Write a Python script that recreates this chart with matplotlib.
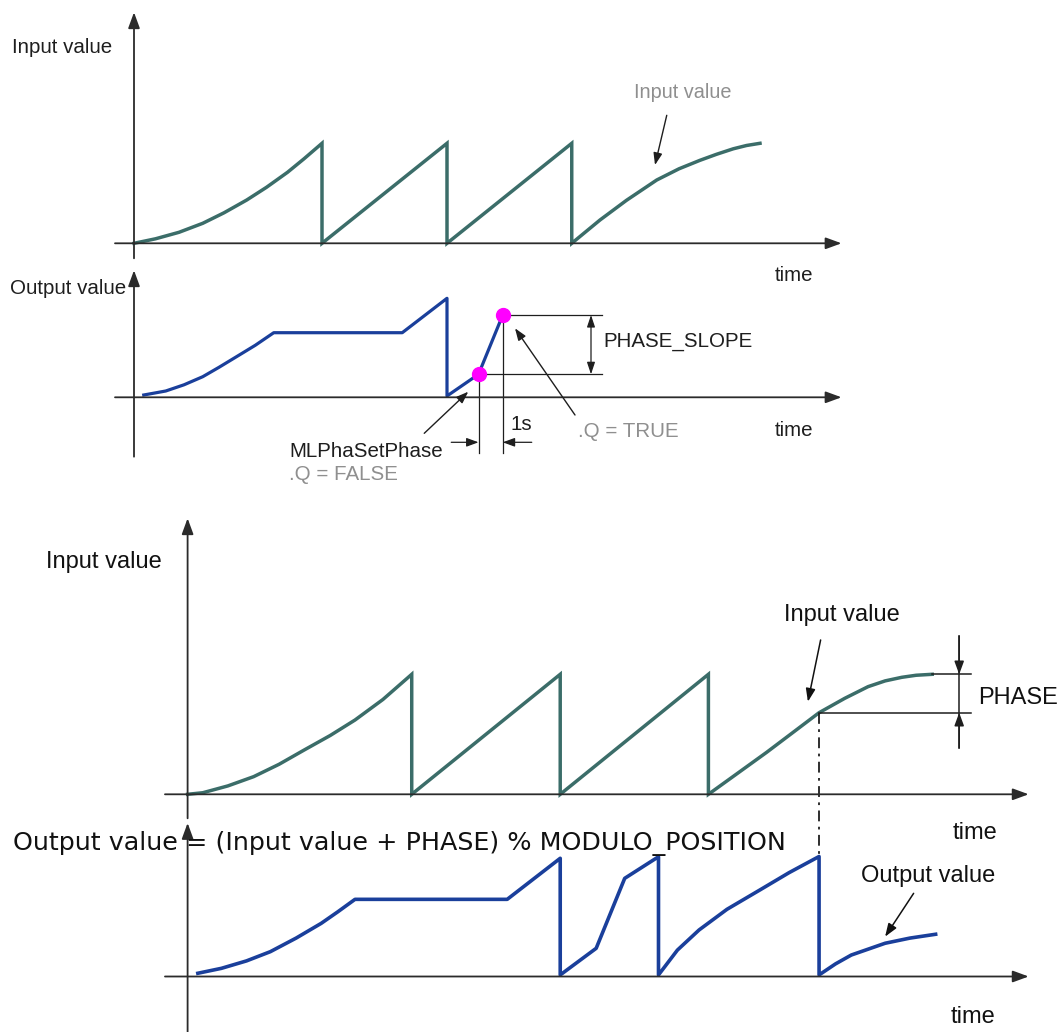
#!/usr/bin/env python3
"""Phase shift diagram: input value vs. output value over time (two cases)."""

import matplotlib

matplotlib.use("Agg")
import matplotlib.pyplot as plt

# ---- data (time in s, values normalised to the modulo height = 1.0) ----
# top case: MLPhaSetPhase with PHASE_SLOPE
top_in_t = [0.0, 0.86, 1.8, 2.75, 3.6, 4.51, 5.3, 6.14, 6.8, 7.52, 7.52,
            12.52, 12.52, 17.51, 17.51,
            18.64, 19.7, 20.91, 21.8, 22.64, 23.3, 23.97, 24.5, 25.04]
top_in_v = [0.0, 0.045, 0.11, 0.2, 0.305, 0.433, 0.56, 0.71, 0.845, 1.0, 0.0,
            1.0, 0.0, 1.0, 0.0,
            0.233, 0.43, 0.633, 0.745, 0.83, 0.89, 0.945, 0.978, 1.0]
top_out_t = [0.39, 1.27, 2.0, 2.75, 3.4, 4.10, 4.85, 5.59, 10.73, 12.52, 12.52,
             13.78, 14.75]
top_out_v = [0.023, 0.063, 0.125, 0.206, 0.3, 0.406, 0.52, 0.646, 0.646, 0.99, 0.013,
             0.23, 0.823]
q_false = (13.78, 0.23)
q_true = (14.75, 0.823)

# bottom case: output = (input + PHASE) % MODULO_POSITION
bot_in_t = [0.0, 0.49, 1.3, 2.13, 2.95, 3.76, 4.6, 5.40, 6.3, 7.23, 7.23,
            12.02, 12.02, 16.80, 16.80,
            17.59, 18.68, 19.5, 20.37, 21.2, 21.95, 22.5, 23.04, 23.5, 24.02]
bot_in_v = [0.0, 0.013, 0.07, 0.147, 0.25, 0.369, 0.49, 0.619, 0.79, 1.0, 0.0,
            1.0, 0.0, 1.0, 0.0,
            0.147, 0.35, 0.51, 0.68, 0.8, 0.897, 0.945, 0.975, 0.992, 1.0]
bot_out_t = [0.33, 1.09, 1.9, 2.67, 3.5, 4.31, 4.85, 5.40, 10.31, 12.02, 12.02,
             13.18, 14.10, 15.19, 15.19,
             15.8, 16.50, 17.4, 18.46, 19.4, 20.37, 20.37,
             20.9, 21.41, 22.50, 23.3, 24.13]
bot_out_v = [0.027, 0.068, 0.13, 0.207, 0.32, 0.443, 0.54, 0.643, 0.643, 0.985, 0.013,
             0.235, 0.818, 0.998, 0.013,
             0.22, 0.388, 0.56, 0.721, 0.865, 1.0, 0.013,
             0.105, 0.179, 0.277, 0.32, 0.352]
phase_t = 20.37
phase_from = 0.68
phase_to = 1.0

TEAL = "#3b6d69"
BLUE = "#1a3f9b"
AXIS = "#2b2b2b"
GREY = "#8f8f8f"
INK = "#1e1e1e"
W, H = 1060, 1032
FS_TOP = 14.8
FS_BOT = 17

plt.rcParams["font.family"] = ["Liberation Sans", "DejaVu Sans"]

fig = plt.figure(figsize=(W / 100, H / 100), dpi=100)


def panel(ox, oy, sx, sy):
    """Full-figure transparent axes whose origin sits at pixel (ox, oy)."""
    ax = fig.add_axes([0, 0, 1, 1])
    ax.set_xlim(-ox / sx, (W - ox) / sx)
    ax.set_ylim(-(H - oy) / sy, oy / sy)
    ax.axis("off")
    ax.patch.set_alpha(0)
    return ax


def arrow(ax, start, tip, lw=1.3, color=AXIS, scale=16, hl=0.6, hw=0.22):
    ax.annotate("", xy=tip, xytext=start,
                arrowprops=dict(arrowstyle=f"-|>,head_length={hl},head_width={hw}",
                                color=color, lw=lw, mutation_scale=scale,
                                shrinkA=0, shrinkB=0))


def axes_lines(ax, x0, x1, y0, y1):
    arrow(ax, (0, y0), (0, y1))
    arrow(ax, (x0, 0), (x1, 0))


# ---- top input ----
a1 = panel(134, 243.3, 25, 100)
axes_lines(a1, -0.76, 28.3, -0.15, 2.31)
a1.plot(top_in_t, top_in_v, color=TEAL, lw=2.5, solid_joinstyle="miter")
a1.text(-4.9, 1.96, "Input value", fontsize=FS_TOP, va="center", color=INK)
a1.text(21.94, 1.51, "Input value", fontsize=14.3, va="center", ha="center", color=GREY)
arrow(a1, (21.31, 1.28), (20.84, 0.783), lw=1.0, color=INK, scale=12)
a1.text(26.4, -0.32, "time", fontsize=FS_TOP, va="center", ha="center", color=INK)

# ---- top output ----
a2 = panel(134, 397.3, 25, 100)
axes_lines(a2, -0.76, 28.3, -0.594, 1.27)
a2.plot(top_out_t, top_out_v, color=BLUE, lw=2.3)
thin = dict(color=INK, lw=0.9)
a2.plot([q_false[0], 18.72], [q_false[1]] * 2, **thin)
a2.plot([q_true[0], 18.72], [q_true[1]] * 2, **thin)
a2.plot([q_false[0]] * 2, [q_false[1], -0.553], **thin)
a2.plot([q_true[0]] * 2, [q_true[1], -0.553], **thin)
a2.annotate("", xy=(18.28, q_true[1]), xytext=(18.28, q_false[1]),
            arrowprops=dict(arrowstyle="<|-|>,head_length=0.6,head_width=0.2",
                            color=INK, lw=0.9, mutation_scale=12,
                            shrinkA=0, shrinkB=0))
arrow(a2, (12.69, -0.45), (q_false[0], -0.45), lw=0.9, color=INK, scale=12)
arrow(a2, (15.91, -0.45), (q_true[0], -0.45), lw=0.9, color=INK, scale=12)
a2.plot([q_false[0], q_true[0]], [q_false[1], q_true[1]], "o", color="#ff00ff",
        markersize=10, zorder=5)
a2.text(18.77, 0.556, "PHASE_SLOPE", fontsize=FS_TOP, va="center", color=INK)
a2.text(15.5, -0.277, "1s", fontsize=FS_TOP, va="center", ha="center", color=INK)
a2.text(17.77, -0.343, ".Q = TRUE", fontsize=FS_TOP, va="center", color=GREY)
arrow(a2, (17.64, -0.177), (15.24, 0.69), lw=1.0, color=INK, scale=12)
a2.text(6.2, -0.544, "MLPhaSetPhase", fontsize=FS_TOP, va="center", color=INK)
a2.text(6.2, -0.777, ".Q = FALSE", fontsize=FS_TOP, va="center", color=GREY)
arrow(a2, (11.61, -0.36), (13.37, 0.056), lw=1.0, color=INK, scale=12)
a2.text(-4.96, 1.083, "Output value", fontsize=FS_TOP, va="center", color=INK)
a2.text(26.4, -0.327, "time", fontsize=FS_TOP, va="center", ha="center", color=INK)

# ---- bottom input ----
a3 = panel(187.6, 794.3, 31, 120)
axes_lines(a3, -0.73, 27.13, -0.2, 2.30)
a3.plot(bot_in_t, bot_in_v, color=TEAL, lw=2.5, solid_joinstyle="miter")
a3.plot([phase_t, phase_t], [phase_from, -0.506], color=INK, lw=1.3,
        linestyle=(0, (6, 3, 1.5, 3)))
a3.plot([phase_t, 25.27], [phase_from] * 2, color=INK, lw=1.1)
a3.plot([bot_in_t[-1], 25.27], [phase_to] * 2, color=INK, lw=1.1)
a3.plot([24.89, 24.89], [1.319, 0.386], color=INK, lw=1.1)
arrow(a3, (24.89, 1.319), (24.89, phase_to), lw=1.1, color=INK, scale=13)
arrow(a3, (24.89, 0.386), (24.89, phase_from), lw=1.1, color=INK, scale=13)
a3.text(25.5, 0.80, "PHASE", fontsize=FS_BOT, va="center", color="#111111")
a3.text(21.11, 1.494, "Input value", fontsize=FS_BOT, va="center", ha="center",
        color="#111111")
arrow(a3, (20.42, 1.286), (20.01, 0.772), lw=1.1, color="#111111", scale=13)
a3.text(-4.58, 1.938, "Input value", fontsize=FS_BOT, va="center", color="#111111")
a3.text(25.39, -0.323, "time", fontsize=FS_BOT, va="center", ha="center", color="#111111")

# ---- bottom output ----
a4 = panel(187.6, 976.5, 31, 120)
axes_lines(a4, -0.73, 27.13, -0.46, 1.279)
a4.plot(bot_out_t, bot_out_v, color=BLUE, lw=2.6)
a4.text(-5.62, 1.11, "Output value = (Input value + PHASE) % MODULO_POSITION",
        fontsize=18.3, va="center", color="#111111", family="DejaVu Sans")
a4.text(23.9, 0.8375, "Output value", fontsize=FS_BOT, va="center", ha="center",
        color="#111111")
arrow(a4, (23.42, 0.693), (22.5, 0.332), lw=1.1, color="#111111", scale=13)
a4.text(25.35, -0.335, "time", fontsize=FS_BOT, va="center", ha="center", color="#111111")

fig.savefig("out.png", dpi=100)
